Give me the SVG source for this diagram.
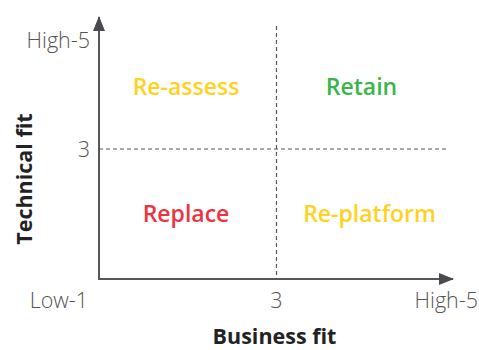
<svg xmlns="http://www.w3.org/2000/svg" width="479" height="350" viewBox="0 0 479 350">
<style>
.axis{stroke:#55555a;stroke-width:2;fill:none}
.dash{stroke:#55555a;stroke-width:1.2;stroke-dasharray:4 3;fill:none}
.tick{font-family:"Open Sans","Liberation Sans",sans-serif;font-weight:300;font-size:21.5px;fill:#555}
.q{font-family:"Open Sans","Liberation Sans",sans-serif;font-weight:600;font-size:23px}
.title{font-family:"Open Sans","Liberation Sans",sans-serif;font-weight:700;font-size:21.5px;fill:#222}
</style>
<defs>
<marker id="arr" markerWidth="15" markerHeight="12" refX="14" refY="6" orient="auto" markerUnits="userSpaceOnUse">
<path d="M0,0 L15,6 L0,12 Z" fill="#4a4a4f"/>
</marker>
</defs>
<rect width="479" height="350" fill="#fff"/>
<g id="connectors">
<line class="dash" x1="276.5" y1="26" x2="276.5" y2="279"/>
<line class="dash" x1="99" y1="149" x2="448" y2="149"/>
<line class="axis" x1="99" y1="279" x2="99" y2="17" marker-end="url(#arr)"/>
<line class="axis" x1="98" y1="279" x2="453" y2="279" marker-end="url(#arr)"/>
</g>
<g id="ticks">
<text class="tick" x="90" y="48" text-anchor="end">High-5</text>
<text class="tick" x="90" y="157" text-anchor="end">3</text>
<text class="tick" x="88" y="308" text-anchor="end">Low-1</text>
<text class="tick" x="276.5" y="308" text-anchor="middle">3</text>
<text class="tick" x="478" y="308" text-anchor="end">High-5</text>
</g>
<g id="re-assess"><text class="q" x="186" y="95" text-anchor="middle" fill="#FFD21F">Re-assess</text></g>
<g id="retain"><text class="q" x="361.5" y="95" text-anchor="middle" fill="#3BB54A">Retain</text></g>
<g id="replace"><text class="q" x="186" y="222" text-anchor="middle" fill="#EE3340">Replace</text></g>
<g id="re-platform"><text class="q" x="369.5" y="222" text-anchor="middle" fill="#FFD21F">Re-platform</text></g>
<g id="x-title"><text class="title" x="274.5" y="344" text-anchor="middle">Business fit</text></g>
<g id="y-title"><text class="title" transform="translate(32,179) rotate(-90)" text-anchor="middle">Technical fit</text></g>
</svg>
